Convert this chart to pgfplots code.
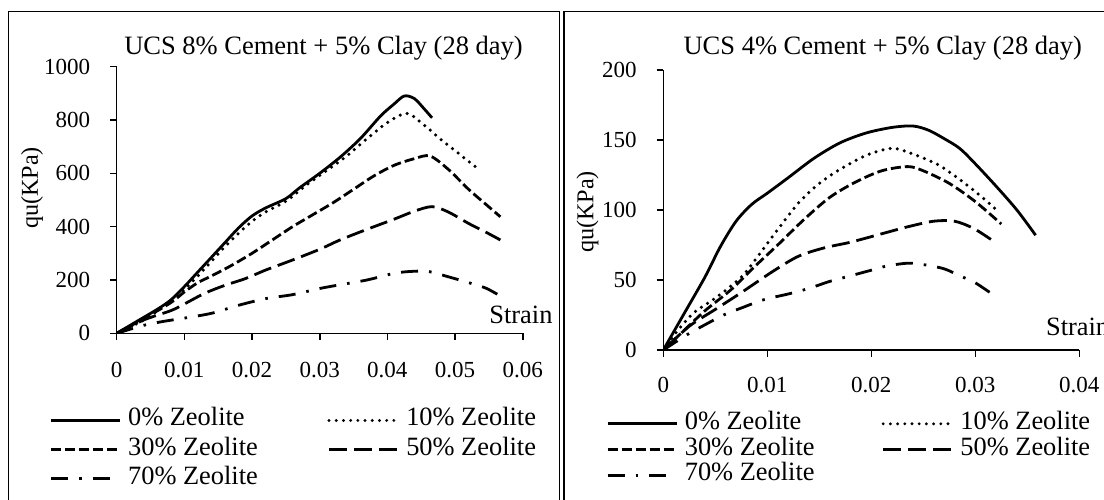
\documentclass[border=0pt]{standalone}
\usepackage{fontspec}
\setmainfont{Liberation Serif}
\usepackage{pgfplots}
\pgfplotsset{compat=1.18}
\begin{document}
\begin{tikzpicture}
\useasboundingbox (0,0) rectangle (552pt,249.5pt);
\clip (0,0) rectangle (552pt,249.5pt);
\draw[line width=0.6pt] (4.15pt,-5pt) -- (4.15pt,243.65pt) -- (279.65pt,243.65pt) -- (279.65pt,-5pt);
\draw[line width=0.6pt] (282pt,-5pt) -- (282pt,243.65pt) -- (560pt,243.65pt);
\pgfplotsset{
 myaxis/.style={scale only axis, axis lines=left,
   axis line style={-, line width=0.8pt},
   tick style={black, line width=0.8pt}, major tick length=3.3pt, tick align=outside,
   ticklabel style={font=\fontsize{11.5}{13}\selectfont},
   /pgf/number format/assume math mode=true, scaled ticks=false,
   /pgf/number format/1000 sep={},
   xticklabel style={/pgf/number format/.cd, fixed, precision=2, /tikz/.cd, anchor=center, inner sep=0pt},
   yticklabel style={xshift=-6.5pt},
   legend columns=2, legend cell align=left,
   legend image code/.code={\draw[##1, line width=1.6pt] (0pt,0pt) -- (34.5pt,0pt);}},
 s0/.style={black, line width=1.4pt, smooth, tension=0.5},
 s10/.style={black, line width=1.75pt, line cap=round, dash pattern=on 0pt off 3.6pt, smooth, tension=0.5},
 s30/.style={black, line width=1.4pt, dash pattern=on 5pt off 2pt, smooth, tension=0.5},
 s50/.style={black, line width=1.4pt, dash pattern=on 9pt off 3.5pt, smooth, tension=0.5},
 s70/.style={black, line width=1.4pt, dash pattern=on 8.5pt off 5.5pt on 1.3pt off 5.5pt, smooth, tension=0.5},
}
% ---------------- left panel ----------------
\begin{axis}[myaxis, at={(58.35pt,82.85pt)}, anchor=south west,
  width=203pt, height=133.33pt,
  xmin=0, xmax=0.06, ymin=0, ymax=1000,
  xtick={0,0.01,0.02,0.03,0.04,0.05,0.06},
  ytick={0,200,400,600,800,1000},
  xticklabel style={yshift=-15pt},
  legend style={at={(-0.166,-0.280)}, anchor=north west, draw=none, fill=none,
    inner sep=0pt, outer sep=0pt, font=\fontsize{13.2}{15}\selectfont,
    nodes={inner sep=0pt, text height=9pt, text depth=3.5pt}, row sep=2.1pt,
    /tikz/every odd column/.append style={column sep=3.3pt},
    /tikz/every even column/.append style={column sep=34.8pt}}]
\addplot[s0] coordinates {(0,0) (0.003,45) (0.006,90) (0.008,125) (0.010,175) (0.012,230) (0.014,285) (0.016,340) (0.018,395) (0.020,440) (0.022,470) (0.025,505) (0.027,545) (0.030,600) (0.033,660) (0.036,730) (0.039,815) (0.041,860) (0.0425,890) (0.044,880) (0.0455,840) (0.0466,808)};
\addlegendentry{0\% Zeolite}
\addplot[s10] coordinates {(0,0) (0.004,50) (0.008,120) (0.010,165) (0.012,215) (0.014,270) (0.016,325) (0.018,375) (0.020,420) (0.022,455) (0.025,495) (0.028,555) (0.031,610) (0.034,665) (0.037,730) (0.040,790) (0.0428,825) (0.045,790) (0.048,725) (0.051,665) (0.053,625)};
\addlegendentry{10\% Zeolite}
\addplot[s30] coordinates {(0,0) (0.004,55) (0.008,115) (0.010,155) (0.012,190) (0.014,215) (0.017,255) (0.020,300) (0.023,350) (0.026,400) (0.029,445) (0.032,490) (0.035,540) (0.038,590) (0.041,630) (0.044,655) (0.0463,665) (0.049,615) (0.052,540) (0.0545,485) (0.0567,437)};
\addlegendentry{30\% Zeolite}
\addplot[s50] coordinates {(0,0) (0.004,50) (0.008,85) (0.010,110) (0.013,150) (0.016,180) (0.019,205) (0.022,237) (0.026,275) (0.030,315) (0.033,350) (0.037,390) (0.041,428) (0.044,458) (0.0466,475) (0.049,455) (0.052,412) (0.0545,380) (0.0567,350)};
\addlegendentry{50\% Zeolite}
\addplot[s70] coordinates {(0,0) (0.004,30) (0.007,45) (0.010,57) (0.014,75) (0.018,105) (0.022,130) (0.026,145) (0.030,168) (0.033,182) (0.037,200) (0.041,225) (0.0435,232) (0.046,232) (0.049,212) (0.052,190) (0.0545,170) (0.0567,140)};
\addlegendentry{70\% Zeolite}
\end{axis}
% ---------------- right panel ----------------
\begin{axis}[myaxis, at={(331.65pt,74.5pt)}, anchor=south west,
  width=208pt, height=140pt,
  xmin=0, xmax=0.04, ymin=0, ymax=200,
  xtick={0,0.01,0.02,0.03,0.04},
  ytick={0,50,100,150,200},
  xticklabel style={yshift=-14pt},
  legend style={at={(-0.1377,-0.219)}, anchor=north west, draw=none, fill=none,
    inner sep=0pt, outer sep=0pt, font=\fontsize{13.2}{15}\selectfont,
    nodes={inner sep=0pt, text height=9pt, text depth=3.5pt}, row sep=0.4pt,
    /tikz/every odd column/.append style={column sep=3.3pt},
    /tikz/every even column/.append style={column sep=33.5pt}}]
\addplot[s0] coordinates {(0,0) (0.002,26) (0.004,52) (0.0055,74) (0.007,92) (0.0085,104) (0.010,112) (0.012,123) (0.0145,137) (0.017,148) (0.0195,155) (0.022,159) (0.024,160) (0.0255,157) (0.027,151) (0.0285,144) (0.030,133) (0.032,117) (0.034,100) (0.0358,82)};
\addlegendentry{0\% Zeolite}
\addplot[s10] coordinates {(0,0) (0.0015,15) (0.003,27) (0.005,37) (0.0075,52) (0.009,66) (0.011,86) (0.013,105) (0.015,119) (0.017,129) (0.0195,139) (0.022,144) (0.024,140) (0.0265,132) (0.029,119) (0.031,107) (0.0322,99)};
\addlegendentry{10\% Zeolite}
\addplot[s30] coordinates {(0,0) (0.002,14) (0.004,28) (0.0065,43) (0.0087,59) (0.011,75) (0.0135,93) (0.016,109) (0.0185,120) (0.021,128) (0.0235,131) (0.025,128) (0.0275,119) (0.030,106) (0.0325,90)};
\addlegendentry{30\% Zeolite}
\addplot[s50] coordinates {(0,0) (0.0025,17) (0.005,29) (0.0075,41) (0.0105,56) (0.013,67) (0.0155,73) (0.018,77) (0.021,83) (0.0235,88) (0.026,92) (0.028,92) (0.0298,87) (0.0315,79)};
\addlegendentry{50\% Zeolite}
\addplot[s70] coordinates {(0,0) (0.0023,11) (0.004,18) (0.0058,25) (0.0075,30) (0.0097,36) (0.012,40) (0.014,44) (0.016,49) (0.018,53) (0.020,57) (0.0215,60) (0.0235,62) (0.025,61) (0.027,58) (0.0285,53) (0.030,48) (0.0318,39)};
\addlegendentry{70\% Zeolite}
\end{axis}
% ---------------- texts ----------------
\node[anchor=base, font=\fontsize{13.25}{15}\selectfont] at (161.75pt,222pt) {UCS 8\% Cement + 5\% Clay (28 day)};
\node[anchor=base, font=\fontsize{13.25}{15}\selectfont] at (441.4pt,222pt) {UCS 4\% Cement + 5\% Clay (28 day)};
\node[rotate=90, font=\fontsize{12.1}{14}\selectfont, inner sep=0pt] at (16pt,155.5pt) {qu(KPa)};
\node[rotate=90, font=\fontsize{12.1}{14}\selectfont, inner sep=0pt] at (293.75pt,143.5pt) {qu(KPa)};
\node[anchor=west, inner sep=0pt, font=\fontsize{13.2}{15}\selectfont] at (244.5pt,92pt) {Strain};
\node[anchor=west, inner sep=0pt, font=\fontsize{13.2}{15}\selectfont] at (522.85pt,86.15pt) {Strain};
\end{tikzpicture}
\end{document}
